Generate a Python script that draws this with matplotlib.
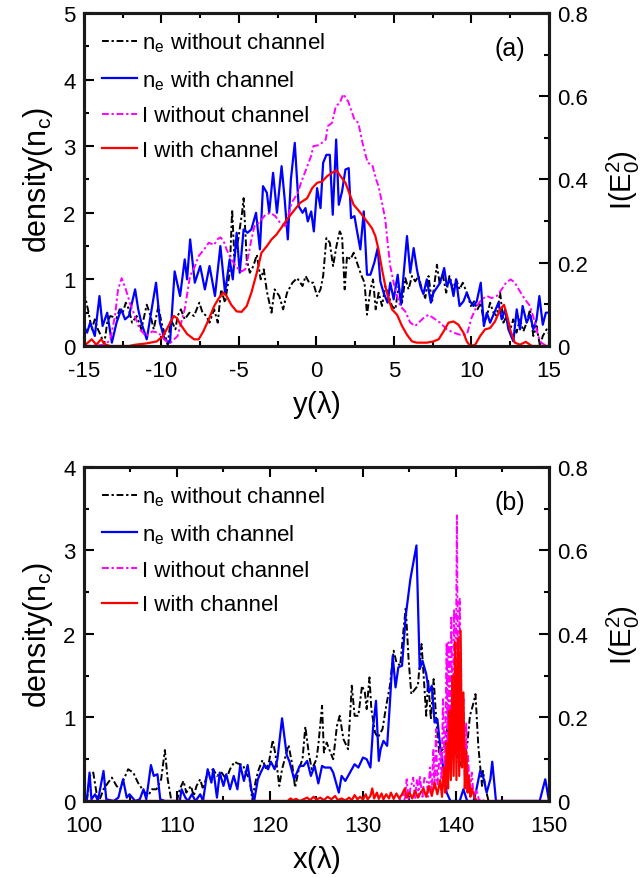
import numpy as np
import matplotlib.pyplot as plt
from matplotlib.ticker import MultipleLocator

plt.rcParams['font.family'] = ['Liberation Sans', 'DejaVu Sans']
plt.rcParams['mathtext.fontset'] = 'custom'
plt.rcParams['mathtext.rm'] = 'Liberation Sans'
plt.rcParams['mathtext.it'] = 'Liberation Sans'
plt.rcParams['axes.unicode_minus'] = False

# ---------------- (a) transverse profile, y in lambda ----------------
# electron density (n_c)
a_ne_without = [(-15.0, 0.82), (-14.7, 0.5), (-14.5, 0.25), (-14.3, 0.4), (-14.1, 0.25), (-13.9, 0.15),
                (-13.7, 0.02), (-13.5, 0.35), (-13.3, 0.45), (-12.9, 0.42), (-12.7, 0.55), (-12.5, 0.5),
                (-12.3, 0.65), (-12.1, 0.55), (-11.9, 0.35), (-11.6, 0.45), (-11.3, 0.25), (-10.95, 0.62),
                (-10.7, 0.45), (-10.5, 0.25), (-10.2, 0.6), (-10.0, 0.35), (-9.75, 0.15), (-9.6, 0.02),
                (-9.4, 0.4), (-9.1, 0.25), (-8.96, 0.45), (-8.75, 0.55), (-8.5, 0.4), (-8.2, 0.5),
                (-7.9, 0.45), (-7.56, 0.65), (-7.35, 0.5), (-7.1, 0.45), (-6.9, 0.35), (-6.6, 0.55),
                (-6.37, 0.35), (-6.15, 0.85), (-5.9, 0.65), (-5.6, 1.1), (-5.44, 2.05), (-5.3, 1.35),
                (-5.05, 1.6), (-4.8, 2.0), (-4.7, 2.22), (-4.5, 1.3), (-4.3, 1.1), (-4.07, 1.2),
                (-3.85, 1.37), (-3.6, 1.0), (-3.4, 1.15), (-3.2, 0.82), (-2.9, 0.5), (-2.7, 0.85),
                (-2.4, 0.75), (-2.15, 0.55), (-1.9, 0.8), (-1.55, 0.95), (-1.25, 1.02), (-0.9, 0.9),
                (-0.7, 1.05), (-0.47, 0.95), (-0.21, 0.95), (0.04, 0.75), (0.26, 0.85), (0.43, 1.05),
                (0.64, 1.62), (0.86, 1.55), (1.07, 1.2), (1.29, 1.5), (1.5, 1.72), (1.65, 1.65),
                (1.82, 0.85), (1.97, 1.35), (2.19, 1.3), (2.4, 1.4), (2.62, 1.25), (2.88, 1.07),
                (3.1, 0.95), (3.26, 0.47), (3.48, 0.85), (3.65, 1.0), (3.82, 0.55), (4.01, 0.8),
                (4.23, 0.6), (4.44, 0.9), (4.66, 0.75), (4.87, 0.6), (5.09, 0.55), (5.3, 0.9),
                (5.52, 0.65), (5.73, 1.02), (5.94, 0.85), (6.16, 1.05), (6.37, 0.97), (6.59, 1.05),
                (6.8, 0.85), (7.02, 0.72), (7.23, 1.05), (7.45, 0.65), (7.77, 1.22), (7.94, 0.95),
                (8.15, 1.07), (8.37, 0.8), (8.58, 1.05), (8.8, 0.85), (9.01, 1.0), (9.23, 0.85),
                (9.44, 0.95), (9.7, 0.8), (9.96, 0.6), (10.17, 0.67), (10.39, 0.55), (10.6, 0.65),
                (10.8, 0.35), (11.0, 0.45), (11.2, 0.65), (11.42, 0.5), (11.63, 0.45), (11.85, 0.8),
                (12.06, 0.35), (12.27, 0.45), (12.5, 0.25), (12.7, 0.4), (12.9, 0.2), (13.13, 0.4),
                (13.35, 0.22), (13.56, 0.35), (13.78, 0.55), (13.99, 0.15), (14.2, 0.3), (14.42, 0.0),
                (14.6, 0.15), (14.85, 0.25), (15.0, 0.18)]

a_ne_with = [(-15.0, 0.30), (-14.8, 0.20), (-14.6, 0.35), (-14.3, 0.15), (-14.0, 0.75), (-13.8, 0.30),
             (-13.5, 0.50), (-13.2, 0.05), (-12.9, 0.35), (-12.6, 0.55), (-12.35, 0.40), (-12.1, 0.45),
             (-11.7, 0.85), (-11.5, 0.55), (-11.3, 0.35), (-10.95, 0.10), (-10.6, 0.60), (-10.35, 0.95),
             (-10.1, 0.35), (-9.8, 0.10), (-9.45, 0.05), (-9.15, 1.12), (-8.8, 0.75), (-8.5, 1.30),
             (-8.35, 1.00), (-8.15, 1.60), (-7.85, 0.95), (-7.5, 1.20), (-7.2, 0.85), (-6.9, 1.20),
             (-6.55, 0.75), (-6.2, 1.50), (-5.9, 0.80), (-5.6, 1.30), (-5.4, 1.00), (-5.15, 1.70),
             (-4.95, 1.10), (-4.7, 1.75), (-4.45, 1.70), (-4.2, 1.75), (-3.9, 2.00), (-3.65, 1.45),
             (-3.45, 2.40), (-3.2, 2.30), (-3.05, 2.00), (-2.8, 2.60), (-2.55, 2.00), (-2.25, 2.70),
             (-2.05, 2.20), (-1.85, 1.60), (-1.65, 2.50), (-1.4, 3.05), (-1.15, 2.10), (-0.9, 2.00),
             (-0.71, 2.07), (-0.56, 1.87), (-0.34, 2.02), (-0.17, 1.72), (0.04, 2.37), (0.26, 2.07),
             (0.43, 2.75), (0.64, 2.87), (0.86, 2.87), (1.05, 1.97), (1.27, 3.10), (1.44, 2.12),
             (1.65, 2.32), (1.87, 2.65), (2.08, 2.67), (2.23, 1.92), (2.45, 1.95), (2.62, 1.72),
             (2.83, 1.45), (3.05, 2.02), (3.26, 1.07), (3.48, 1.07), (3.73, 1.25), (3.95, 1.47),
             (4.12, 0.97), (4.33, 0.80), (4.59, 0.65), (4.76, 0.95), (4.98, 0.70), (5.24, 1.07),
             (5.45, 0.62), (5.84, 1.65), (6.05, 1.10), (6.27, 1.47), (6.48, 1.15), (6.7, 0.90),
             (6.9, 0.78), (7.12, 1.00), (7.38, 0.65), (7.55, 0.80), (7.98, 0.95), (8.24, 1.17),
             (8.41, 0.90), (8.63, 1.00), (8.84, 0.75), (9.01, 1.00), (9.23, 0.60), (9.48, 0.67),
             (9.7, 0.80), (9.91, 0.67), (10.13, 0.60), (10.34, 0.67), (10.6, 0.95), (10.8, 0.30),
             (10.99, 0.50), (11.2, 0.35), (11.42, 0.47), (11.74, 0.65), (11.95, 0.40), (12.17, 0.55),
             (12.38, 0.25), (12.7, 0.07), (12.92, 0.55), (13.13, 0.25), (13.3, 0.60), (13.56, 0.35),
             (13.78, 0.47), (13.99, 0.25), (14.2, 0.40), (14.38, 0.75), (14.6, 0.32), (14.8, 0.50),
             (15.0, 0.50)]

# laser intensity (E0^2)
a_I_without = [(-15.0, 0.0), (-13.6, 0.003), (-13.3, 0.016), (-13.0, 0.072), (-12.8, 0.136), (-12.57, 0.163),
               (-12.3, 0.136), (-12.0, 0.099), (-11.8, 0.08), (-11.4, 0.04), (-11.0, 0.024), (-10.6, 0.035),
               (-10.2, 0.032), (-9.75, 0.013), (-9.4, 0.008), (-8.96, 0.024), (-8.5, 0.088), (-8.16, 0.168),
               (-7.84, 0.192), (-7.6, 0.216), (-7.25, 0.232), (-6.95, 0.248), (-6.6, 0.243), (-6.4, 0.256),
               (-6.2, 0.261), (-6.0, 0.253), (-5.8, 0.232), (-5.5, 0.208), (-5.15, 0.189), (-4.83, 0.179),
               (-4.6, 0.184), (-4.4, 0.216), (-4.2, 0.256), (-4.0, 0.288), (-3.85, 0.291), (-3.6, 0.301),
               (-3.3, 0.315), (-2.97, 0.32), (-2.66, 0.312), (-2.35, 0.296), (-2.0, 0.288), (-1.6, 0.344),
               (-1.2, 0.368), (-1.0, 0.392), (-0.67, 0.424), (-0.35, 0.456), (-0.2, 0.48), (0.2, 0.483),
               (0.6, 0.496), (0.73, 0.528), (1.0, 0.536), (1.25, 0.576), (1.5, 0.584), (1.73, 0.605),
               (2.05, 0.587), (2.45, 0.544), (2.7, 0.536), (2.97, 0.488), (3.3, 0.44), (3.6, 0.435),
               (3.85, 0.4), (4.0, 0.384), (4.23, 0.344), (4.44, 0.304), (4.59, 0.248), (4.76, 0.192),
               (4.98, 0.152), (5.2, 0.12), (5.4, 0.096), (5.73, 0.083), (6.05, 0.056), (6.37, 0.048),
               (6.59, 0.056), (6.9, 0.067), (7.23, 0.075), (7.55, 0.067), (7.98, 0.056), (8.41, 0.04),
               (8.84, 0.032), (9.27, 0.027), (9.7, 0.027), (10.0, 0.067), (10.34, 0.096), (10.66, 0.112),
               (11.0, 0.12), (11.3, 0.115), (11.63, 0.12), (11.95, 0.136), (12.23, 0.152), (12.53, 0.16),
               (12.8, 0.152), (13.13, 0.131), (13.45, 0.112), (13.78, 0.096), (14.1, 0.056), (14.3, 0.024),
               (14.5, 0.008), (14.85, 0.0), (15.0, 0.0)]

a_I_with = [(-15.0, 0.0), (-14.5, 0.016), (-14.2, 0.003), (-13.9, 0.016), (-13.6, 0.003), (-13.3, 0.0),
            (-12.1, 0.0), (-11.7, 0.003), (-11.0, 0.006), (-10.3, 0.011), (-9.9, 0.024), (-9.55, 0.048),
            (-9.2, 0.072), (-9.0, 0.067), (-8.8, 0.053), (-8.35, 0.029), (-7.9, 0.016), (-7.6, 0.016),
            (-7.3, 0.035), (-6.95, 0.064), (-6.6, 0.096), (-6.3, 0.115), (-6.0, 0.128), (-5.8, 0.12),
            (-5.5, 0.099), (-5.15, 0.083), (-4.83, 0.082), (-4.5, 0.096), (-4.2, 0.128), (-3.85, 0.176),
            (-3.55, 0.224), (-3.2, 0.24), (-2.9, 0.256), (-2.6, 0.267), (-2.25, 0.285), (-1.9, 0.304),
            (-1.5, 0.323), (-1.05, 0.344), (-0.6, 0.355), (-0.28, 0.379), (0.04, 0.392), (0.36, 0.395),
            (0.69, 0.408), (1.0, 0.416), (1.29, 0.422), (1.55, 0.408), (1.87, 0.392), (2.19, 0.36),
            (2.4, 0.339), (2.66, 0.328), (2.94, 0.315), (3.26, 0.299), (3.58, 0.283), (3.8, 0.264),
            (4.0, 0.232), (4.23, 0.184), (4.44, 0.144), (4.66, 0.112), (4.87, 0.088), (5.2, 0.075),
            (5.52, 0.048), (5.84, 0.027), (6.16, 0.011), (6.48, 0.008), (7.12, 0.008), (7.55, 0.011),
            (7.88, 0.016), (8.2, 0.035), (8.52, 0.056), (8.84, 0.059), (9.16, 0.051), (9.48, 0.032),
            (9.7, 0.011), (9.91, 0.0), (10.24, 0.003), (10.56, 0.024), (10.88, 0.04), (11.2, 0.043),
            (11.52, 0.059), (11.85, 0.088), (12.1, 0.099), (12.3, 0.072), (12.53, 0.035), (12.8, 0.008),
            (13.13, 0.003), (13.5, 0.01), (13.9, 0.0), (15.0, 0.0)]

# ---------------- (b) longitudinal profile, x in lambda ----------------
b_ne_without = [(100.3, 0.0), (100.64, 0.3), (101.0, 0.34), (101.4, 0.06), (101.7, 0.02), (102.1, 0.14),
                (102.6, 0.22), (103.0, 0.28), (103.5, 0.18), (103.9, 0.14), (104.2, 0.24), (104.75, 0.38),
                (105.3, 0.34), (105.8, 0.22), (106.4, 0.12), (106.9, 0.06), (107.3, 0.14), (107.8, 0.14),
                (108.3, 0.26), (108.7, 0.61), (109.0, 0.26), (109.4, 0.0), (110.0, 0.0), (110.3, 0.14),
                (110.7, 0.24), (111.0, 0.1), (111.5, 0.18), (111.8, 0.06), (112.1, 0.18), (112.5, 0.26),
                (112.8, 0.14), (113.2, 0.3), (113.6, 0.36), (113.9, 0.38), (114.3, 0.3), (114.8, 0.34),
                (115.3, 0.26), (115.7, 0.38), (116.2, 0.47), (116.5, 0.45), (117.1, 0.43), (117.4, 0.34),
                (117.8, 0.26), (118.1, 0.02), (118.5, 0.26), (118.8, 0.38), (119.2, 0.49), (119.6, 0.38),
                (119.9, 0.47), (120.3, 0.73), (120.6, 0.55), (121.0, 0.18), (121.3, 0.38), (121.7, 0.55),
                (122.0, 0.67), (122.4, 0.43), (122.7, 0.16), (123.1, 0.38), (123.5, 0.5), (123.8, 0.89),
                (124.2, 0.55), (124.5, 0.38), (125.0, 0.5), (125.2, 0.67), (125.6, 1.14), (125.8, 0.58),
                (126.1, 0.7), (126.5, 0.58), (126.8, 0.5), (127.2, 0.9), (127.5, 1.02), (127.9, 0.74),
                (128.4, 0.62), (128.8, 1.38), (129.1, 1.02), (129.5, 1.02), (129.9, 1.38), (130.2, 1.3),
                (130.4, 1.1), (130.7, 1.48), (130.9, 1.1), (131.3, 0.82), (131.6, 0.76), (132.1, 0.86),
                (132.5, 1.14), (132.9, 1.38), (133.3, 1.8), (133.6, 1.66), (134.0, 1.62), (134.3, 1.98),
                (134.6, 2.32), (134.9, 1.7), (135.2, 1.28), (135.6, 1.34), (135.9, 1.38), (136.3, 1.88),
                (136.5, 1.54), (136.8, 1.02), (137.0, 1.46), (137.3, 0.98), (137.6, 1.46), (137.9, 0.94),
                (138.2, 0.58), (138.6, 0.62), (138.9, 0.7), (139.3, 1.14), (139.6, 0.9), (140.0, 0.58),
                (140.4, 0.42), (140.8, 0.54), (141.2, 0.66), (141.5, 1.02), (141.9, 1.18), (142.1, 1.28),
                (142.4, 0.66), (142.8, 0.18), (142.9, 0.36), (143.2, 0.14), (143.5, 0.0)]

b_ne_with = [(100.3, 0.0), (100.6, 0.34), (100.8, 0.02), (101.2, 0.08), (101.5, 0.0), (102.1, 0.36),
             (102.4, 0.02), (103.2, 0.0), (103.7, 0.04), (104.2, 0.26), (104.6, 0.04), (104.9, 0.08),
             (105.5, 0.0), (106.0, 0.02), (106.4, 0.14), (106.7, 0.02), (107.2, 0.43), (107.5, 0.3),
             (107.9, 0.32), (108.2, 0.02), (108.7, 0.0), (110.3, 0.0), (110.5, 0.14), (110.9, 0.04),
             (111.2, 0.0), (111.6, 0.08), (112.0, 0.0), (112.5, 0.08), (112.8, 0.0), (113.3, 0.38),
             (113.7, 0.22), (113.9, 0.38), (114.3, 0.04), (114.6, 0.34), (115.0, 0.18), (115.3, 0.32),
             (115.7, 0.14), (116.1, 0.3), (116.5, 0.14), (116.8, 0.43), (117.2, 0.24), (117.6, 0.43),
             (118.0, 0.14), (118.3, 0.0), (118.7, 0.26), (119.0, 0.34), (119.4, 0.43), (119.8, 0.38),
             (120.1, 0.47), (120.5, 0.38), (120.8, 0.5), (121.3, 0.99), (121.8, 0.55), (122.1, 0.47),
             (122.6, 0.26), (123.2, 0.42), (123.6, 0.42), (124.0, 0.48), (124.4, 0.3), (124.8, 0.42),
             (125.2, 0.21), (125.6, 0.42), (125.9, 0.4), (126.5, 0.4), (126.8, 0.34), (127.4, 0.1),
             (127.7, 0.3), (128.1, 0.24), (128.6, 0.34), (129.1, 0.44), (129.5, 0.4), (130.0, 0.52),
             (130.4, 0.5), (130.8, 0.4), (131.1, 0.9), (131.4, 1.2), (131.7, 0.48), (131.9, 0.62),
             (132.2, 0.72), (132.6, 0.66), (132.9, 1.18), (133.2, 1.74), (133.5, 1.36), (133.8, 1.6),
             (134.2, 1.62), (134.6, 2.22), (135.1, 2.66), (135.75, 3.06), (136.1, 1.58), (136.4, 1.68),
             (136.8, 1.52), (137.1, 1.3), (137.4, 1.38), (137.7, 0.94), (138.0, 0.98), (138.3, 0.66),
             (138.6, 0.42), (139.0, 0.1), (139.4, 0.0), (140.4, 0.0), (140.8, 0.14), (141.2, 0.0),
             (141.9, 0.0), (142.2, 0.14), (142.6, 0.36), (142.9, 0.3), (143.3, 0.1), (143.7, 0.26),
             (143.9, 0.47), (144.3, 0.0), (149.0, 0.0), (149.6, 0.26), (150.0, 0.0)]

b_I_without = [(100.0, 0.0), (133.9, 0.0), (134.3, 0.02), (134.5, 0.0), (134.7, 0.052), (134.9, 0.005),
               (135.1, 0.03), (135.4, 0.056), (135.6, 0.005), (135.8, 0.052), (136.0, 0.01), (136.1, 0.06),
               (136.4, 0.01), (136.6, 0.055), (136.85, 0.052), (137.0, 0.01), (137.2, 0.08), (137.4, 0.02),
               (137.56, 0.124), (137.7, 0.03), (137.85, 0.172), (138.0, 0.04), (138.3, 0.124), (138.45, 0.05),
               (138.6, 0.244), (138.8, 0.06), (139.0, 0.38), (139.1, 0.08), (139.2, 0.38), (139.35, 0.1),
               (139.5, 0.444), (139.65, 0.15), (139.8, 0.46), (139.95, 0.2), (140.1, 0.684), (140.25, 0.15),
               (140.4, 0.484), (140.55, 0.1), (140.8, 0.244), (140.95, 0.05), (141.1, 0.188), (141.2, 0.03),
               (141.3, 0.108), (141.5, 0.02), (141.7, 0.068), (141.9, 0.01), (142.2, 0.028), (142.5, 0.0),
               (142.8, 0.005), (143.0, 0.0), (150.0, 0.0)]

b_I_with = [(100.0, 0.0), (121.9, 0.0), (122.2, 0.006), (122.5, 0.002), (122.8, 0.005), (123.2, 0.0),
            (123.6, 0.004), (124.0, 0.008), (124.3, 0.002), (124.7, 0.01), (125.0, 0.003), (125.4, 0.008),
            (125.8, 0.002), (126.2, 0.01), (126.6, 0.004), (127.0, 0.012), (127.3, 0.002), (127.7, 0.006),
            (128.1, 0.001), (128.5, 0.008), (128.8, 0.002), (129.1, 0.014), (129.4, 0.004), (129.7, 0.01),
            (130.0, 0.003), (130.3, 0.016), (130.5, 0.004), (130.8, 0.012), (131.0, 0.03), (131.2, 0.006),
            (131.5, 0.02), (131.7, 0.005), (132.0, 0.018), (132.2, 0.004), (132.5, 0.016), (132.8, 0.006),
            (133.0, 0.02), (133.3, 0.005), (133.6, 0.018), (133.9, 0.006), (134.2, 0.016), (134.5, 0.03),
            (134.7, 0.008), (135.0, 0.02), (135.3, 0.006), (135.6, 0.024), (135.9, 0.008), (136.2, 0.02),
            (136.5, 0.03), (136.8, 0.01), (137.1, 0.036), (137.4, 0.012), (137.7, 0.044), (138.0, 0.016),
            (138.3, 0.05), (138.5, 0.01), (138.7, 0.08), (138.85, 0.02), (139.0, 0.14), (139.15, 0.03),
            (139.3, 0.216), (139.45, 0.05), (139.6, 0.3), (139.75, 0.06), (139.9, 0.38), (140.05, 0.05),
            (140.2, 0.39), (140.35, 0.06), (140.5, 0.408), (140.65, 0.08), (140.8, 0.26), (140.95, 0.03),
            (141.1, 0.12), (141.25, 0.02), (141.4, 0.06), (141.55, 0.01), (141.7, 0.03), (142.0, 0.008),
            (142.3, 0.0), (150.0, 0.0)]

labels = [r'n$_\mathregular{e}$ without channel', r'n$_\mathregular{e}$ with channel',
          'I without channel', 'I with channel']


def xy(pairs):
    arr = np.array(pairs)
    return arr[:, 0], arr[:, 1]


def panel(rect, ne0, ne1, I0, I1, xlim, xmaj, ymax, xlabel, tag):
    ax = fig.add_axes(rect)
    ax2 = ax.twinx()
    dd = (3.5, 1.4, 1.2, 1.4)
    h1, = ax.plot(*xy(ne0), color='k', lw=1.4, dashes=dd)
    h2, = ax.plot(*xy(ne1), color='#0000ff', lw=1.6)
    h3, = ax2.plot(*xy(I0), color='#ff00ff', lw=1.4, dashes=dd)
    h4, = ax2.plot(*xy(I1), color='#ff0000', lw=1.6)

    ax.set_xlim(*xlim)
    ax.set_ylim(0, ymax)
    ax2.set_ylim(0, 0.8)
    ax.xaxis.set_major_locator(MultipleLocator(xmaj))
    ax.xaxis.set_minor_locator(MultipleLocator(xmaj / 2))
    ax.yaxis.set_major_locator(MultipleLocator(1))
    ax.yaxis.set_minor_locator(MultipleLocator(0.5))
    ax2.yaxis.set_major_locator(MultipleLocator(0.2))
    ax2.yaxis.set_minor_locator(MultipleLocator(0.1))
    ax2.yaxis.set_major_formatter(lambda v, p: '0' if v == 0 else f'{v:.1f}')

    ax.tick_params(which='both', direction='in', top=True, right=False, width=1.5, labelsize=16)
    ax.tick_params(axis='x', pad=10)
    ax.tick_params(axis='y', pad=6)
    ax.tick_params(which='major', length=7)
    ax.tick_params(which='minor', length=3.5)
    ax2.tick_params(which='both', direction='in', width=1.5, labelsize=16, pad=6)
    ax2.tick_params(which='major', length=7)
    ax2.tick_params(which='minor', length=3.5)
    for a in (ax, ax2):
        for s in a.spines.values():
            s.set_linewidth(2.2)
            s.set_color('#1a1a1a')

    ax.set_xlabel(xlabel, fontsize=21, labelpad=5)
    ax.set_ylabel(r'density(n$_\mathregular{c}$)', fontsize=22, labelpad=6)
    ax2.set_ylabel(r'I(E$_\mathregular{0}^\mathregular{2}$)', fontsize=21, labelpad=12)

    ax.legend([h1, h2, h3, h4], labels, loc='upper left', frameon=False, fontsize=16,
              handlelength=1.6, handletextpad=0.2, labelspacing=0.62,
              borderaxespad=0.6, borderpad=0.2)
    ax.text(0.915, 0.895, tag, transform=ax.transAxes, fontsize=18, ha='center', va='center')
    return ax


fig = plt.figure(figsize=(6.42, 8.78), dpi=100)

panel([0.1308, 0.6048, 0.7243, 0.3793], a_ne_without, a_ne_with, a_I_without, a_I_with,
      (-15, 15), 5, 5, r'y($\mathregular{\lambda}$)', '(a)')
panel([0.1308, 0.0866, 0.7243, 0.3804], b_ne_without, b_ne_with, b_I_without, b_I_with,
      (100, 150), 10, 4, r'x($\mathregular{\lambda}$)', '(b)')

fig.savefig('out.png', dpi=100)
